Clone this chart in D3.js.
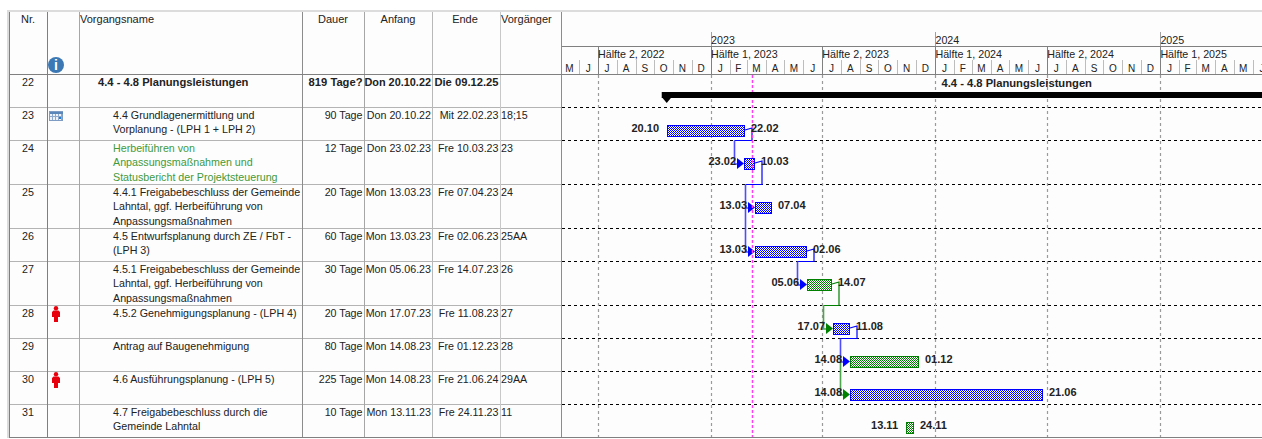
<!DOCTYPE html>
<html lang="de">
<head>
<meta charset="utf-8">
<title>Terminplan 4.4 - 4.8 Planungsleistungen</title>
<script src="https://cdn.jsdelivr.net/npm/d3@7/dist/d3.min.js"></script>
<style>
  html, body { margin: 0; padding: 0; background: #fff; overflow: hidden; }
  svg { display: block; font-family: "Liberation Sans", Arial, sans-serif; }
  text { fill: #222; }
</style>
</head>
<body>
<svg id="plan" width="1262" height="439"></svg>
<script>
// Vorgänge
const taskIds = [22, 23, 24, 25, 26, 27, 28, 29, 30, 31];
const taskNames = [
  ["4.4 - 4.8 Planungsleistungen"],
  ["4.4 Grundlagenermittlung und", "Vorplanung - (LPH 1 + LPH 2)"],
  ["Herbeiführen von", "Anpassungsmaßnahmen und", "Statusbericht der Projektsteuerung"],
  ["4.4.1 Freigabebeschluss der Gemeinde", "Lahntal, ggf. Herbeiführung von", "Anpassungsmaßnahmen"],
  ["4.5 Entwurfsplanung durch ZE / FbT -", "(LPH 3)"],
  ["4.5.1 Freigabebeschluss der Gemeinde", "Lahntal, ggf. Herbeiführung von", "Anpassungsmaßnahmen"],
  ["4.5.2 Genehmigungsplanung - (LPH 4)"],
  ["Antrag auf Baugenehmigung"],
  ["4.6 Ausführungsplanung - (LPH 5)"],
  ["4.7 Freigabebeschluss durch die", "Gemeinde Lahntal"]
];
const taskDurations = ["819 Tage?", "90 Tage", "12 Tage", "20 Tage", "60 Tage", "30 Tage", "20 Tage", "80 Tage", "225 Tage", "10 Tage"];
const taskStarts = ["Don 20.10.22", "Don 20.10.22", "Don 23.02.23", "Mon 13.03.23", "Mon 13.03.23", "Mon 05.06.23", "Mon 17.07.23", "Mon 14.08.23", "Mon 14.08.23", "Mon 13.11.23"];
const taskEnds = ["Die 09.12.25", "Mit 22.02.23", "Fre 10.03.23", "Fre 07.04.23", "Fre 02.06.23", "Fre 14.07.23", "Fre 11.08.23", "Fre 01.12.23", "Fre 21.06.24", "Fre 24.11.23"];
const taskPreds = ["", "18;15", "23", "24", "25AA", "26", "27", "28", "29AA", "11"];
const taskColors = ["summary", "blue", "blue", "blue", "blue", "green", "blue", "green", "blue", "green"];
const taskIcons = ["", "calendar", "", "", "", "", "person", "", "person", ""];
const rowEdges = [74, 107, 140, 184, 228, 261, 305, 338, 371, 404, 437];

// Anordnungsbeziehungen: Vorgänger, Nachfolger, Farbe
const linkFrom = [23, 24, 26, 27, 28];
const linkTo = [24, 25, 27, 28, 29];
const linkColors = ["blue", "blue", "blue", "green", "blue"];
// Beziehungen vom gleichen Anfang aus (AA)
const startLinkFrom = [25, 29];
const startLinkTo = [26, 30];
const startLinkColors = ["blue", "green"];

// Zeitskala
const yearTicks = ["2023", "2024", "2025"];
const halfTickDates = ["01.07.22", "01.01.23", "01.07.23", "01.01.24", "01.07.24", "01.01.25"];
const halfTickLabels = ["Hälfte 2, 2022", "Hälfte 1, 2023", "Hälfte 2, 2023", "Hälfte 1, 2024", "Hälfte 2, 2024", "Hälfte 1, 2025"];
const monthLetters = ["J", "F", "M", "A", "M", "J", "J", "A", "S", "O", "N", "D"];
const statusDate = "10.03.23";

const parse = d3.utcParse("%d.%m.%y");
const label = d3.utcFormat("%d.%m");
const dateOf = s => parse(s.split(" ").pop());

const W = 1262, chartLeft = 562;
const x = d3.scaleUtc()
  .domain([parse("01.01.23"), parse("01.01.25")])
  .range([710.6, 1159.9]);
const snap = v => Math.round(v) + 0.5;

const svg = d3.select("#plan");
const colorHex = { blue: "#0000ff", green: "#008000" };

// Schraffur der Balken
const defs = svg.append("defs");
Object.entries(colorHex).forEach(([name, hex]) => {
  const p = defs.append("pattern").attr("id", "hatch-" + name)
    .attr("width", 2).attr("height", 2).attr("patternUnits", "userSpaceOnUse");
  p.append("rect").attr("width", 2).attr("height", 2).attr("fill", "#fff");
  p.append("rect").attr("width", 1).attr("height", 1).attr("fill", hex);
  p.append("rect").attr("x", 1).attr("y", 1).attr("width", 1).attr("height", 1).attr("fill", hex);
});
defs.append("clipPath").attr("id", "chart-clip")
  .append("rect").attr("x", chartLeft).attr("y", 0).attr("width", W - chartLeft).attr("height", 439);

// Tabellenfläche und Rahmen
svg.append("rect").attr("x", 8).attr("y", 11).attr("width", W - 8).attr("height", 426).attr("fill", "#fdfdfd");
svg.append("rect").attr("x", 7).attr("y", 10).attr("width", W - 7).attr("height", 2).attr("fill", "#dcdcdc");
svg.append("rect").attr("x", 7).attr("y", 10).attr("width", 2).attr("height", 428).attr("fill", "#dcdcdc");

const tableLines = svg.append("g").attr("shape-rendering", "crispEdges");
rowEdges.slice(1, -1).forEach(y => {
  tableLines.append("line").attr("x1", 9).attr("x2", chartLeft).attr("y1", y + 0.5).attr("y2", y + 0.5)
    .attr("stroke", "#b4b4b4");
});
[[9, "#7f7f7f"], [47, "#7f7f7f"], [79, "#a6a6a6"], [302, "#8c8c8c"], [364, "#a6a6a6"], [432, "#b8b8b8"], [500, "#c8c8c8"], [561, "#8c8c8c"]]
  .forEach(([cx, c]) => {
    tableLines.append("line").attr("x1", cx + 0.5).attr("x2", cx + 0.5).attr("y1", 12).attr("y2", 437)
      .attr("stroke", c);
  });
[74, 437].forEach(y => {
  tableLines.append("line").attr("x1", 9).attr("x2", W).attr("y1", y + 0.5).attr("y2", y + 0.5).attr("stroke", "#808080");
});
tableLines.append("line").attr("x1", chartLeft).attr("x2", W).attr("y1", 46.5).attr("y2", 46.5).attr("stroke", "#808080");

// Spaltenköpfe
const headers = [["Nr.", 28, "middle"], ["Vorgangsname", 80, "start"], ["Dauer", 333, "middle"], ["Anfang", 398, "middle"], ["Ende", 465, "middle"], ["Vorgänger", 501, "start"]];
const cellFont = 10.7, boldFont = 11.2;
svg.append("g").selectAll("text").data(headers).join("text")
  .attr("x", d => d[1]).attr("y", 23).attr("text-anchor", d => d[2])
  .attr("font-size", 11).text(d => d[0]);

// Info-Symbol im Spaltenkopf
const info = svg.append("g").attr("transform", "translate(56,65)");
info.append("circle").attr("r", 8).attr("fill", "#3b78b4");
info.append("text").attr("text-anchor", "middle").attr("y", 5).attr("font-size", 14).attr("font-weight", "bold")
  .style("fill", "#fff").text("i");

// Zeitskala: Monate, Halbjahre, Jahre
const timescale = svg.append("g").attr("clip-path", "url(#chart-clip)");
const months = d3.utcMonth.range(parse("01.05.22"), parse("01.07.25"));
const monthG = timescale.append("g");
monthG.selectAll("line").data(months).join("line")
  .attr("x1", d => snap(x(d))).attr("x2", d => snap(x(d))).attr("y1", 60).attr("y2", 74)
  .attr("stroke", "#bdbdbd").attr("shape-rendering", "crispEdges");
monthG.selectAll("text").data(months).join("text")
  .attr("x", d => (x(d) + x(d3.utcMonth.offset(d, 1))) / 2).attr("y", 72)
  .attr("text-anchor", "middle").attr("font-size", 10)
  .text(d => monthLetters[d.getUTCMonth()]);
const halfDates = halfTickDates.map(parse);
timescale.append("g").selectAll("line").data(halfDates).join("line")
  .attr("x1", d => snap(x(d))).attr("x2", d => snap(x(d))).attr("y1", 46).attr("y2", 74)
  .attr("stroke", "#808080").attr("shape-rendering", "crispEdges");
timescale.append("g").selectAll("text").data(halfDates).join("text")
  .attr("x", d => x(d) + 0.5).attr("y", 58).attr("font-size", cellFont)
  .text((d, i) => halfTickLabels[i]);
const yearG = timescale.append("g");
const yearDates = yearTicks.map(y => parse("01.01." + y.slice(2)));
yearG.selectAll("line").data(yearDates).join("line")
  .attr("x1", d => snap(x(d))).attr("x2", d => snap(x(d))).attr("y1", 32).attr("y2", 46)
  .attr("stroke", "#a0a0a0").attr("shape-rendering", "crispEdges");
yearG.selectAll("text").data(yearDates).join("text")
  .attr("x", d => x(d) + 0.5).attr("y", 44).attr("font-size", cellFont)
  .text((d, i) => yearTicks[i]);

// Tabellenzeilen
const rows = taskIds.map((id, i) => ({
  id, i, top: rowEdges[i], names: taskNames[i], dur: taskDurations[i],
  startText: taskStarts[i], endText: taskEnds[i], pred: taskPreds[i],
  color: taskColors[i], icon: taskIcons[i],
  start: dateOf(taskStarts[i]), end: d3.utcDay.offset(dateOf(taskEnds[i]), 1),
  endLabel: dateOf(taskEnds[i])
}));
const rowById = new Map(rows.map(r => [r.id, r]));

const rowG = svg.append("g").selectAll("g").data(rows).join("g")
  .attr("font-size", d => d.color === "summary" ? boldFont : cellFont)
  .attr("font-weight", d => d.color === "summary" ? "bold" : "normal")
  .attr("transform", d => `translate(0,${d.top})`);
rowG.append("text").attr("x", 28).attr("y", 12).attr("text-anchor", "middle").attr("font-weight", "normal").attr("font-size", cellFont).text(d => d.id);
rowG.each(function (d) {
  const g = d3.select(this);
  d.names.forEach((line, k) => {
    g.append("text")
      .attr("x", d.color === "summary" ? 98 : 113)
      .attr("y", 12 + k * 14.3)
      .style("fill", d.id === 24 ? "#3f9a3c" : "#222")
      .text(line);
  });
  if (d.icon === "calendar") {
    const c = g.append("g").attr("transform", "translate(49,4)").attr("shape-rendering", "crispEdges");
    c.append("rect").attr("x", 0.5).attr("y", 0.5).attr("width", 13).attr("height", 9).attr("fill", "#eef3fa").attr("stroke", "#7f9cc4");
    c.append("rect").attr("x", 0.5).attr("y", 0.5).attr("width", 13).attr("height", 2).attr("fill", "#5b86ba");
    [3, 6, 9, 12].forEach(v => c.append("rect").attr("x", v).attr("y", 3).attr("width", 1).attr("height", 6).attr("fill", "#8fa9cc"));
    c.append("rect").attr("x", 1).attr("y", 5).attr("width", 12).attr("height", 1).attr("fill", "#8fa9cc");
    c.append("rect").attr("x", 10).attr("y", 6).attr("width", 2).attr("height", 2).attr("fill", "#1c7fd0");
  }
  if (d.icon === "person") {
    const p = g.append("g").attr("transform", "translate(56,1)").attr("fill", "#e8000c");
    p.append("circle").attr("cy", 2.2).attr("r", 2.2);
    p.append("path").attr("d", "M-2.5,4.5 H2.5 L4,6 V11 H2 V16 H-2 V11 H-4 V6 Z");
  }
});
rowG.append("text").attr("x", 362.5).attr("y", 12).attr("text-anchor", "end").text(d => d.dur);
rowG.append("text").attr("x", 431).attr("y", 12).attr("text-anchor", "end")
  .attr("font-size", d => d.color === "summary" ? 10.9 : cellFont).text(d => d.startText);
rowG.append("text").attr("x", 498.5).attr("y", 12).attr("text-anchor", "end").text(d => d.endText);
rowG.append("text").attr("x", 501).attr("y", 12).text(d => d.pred);

// Balkendiagramm
const chart = svg.append("g").attr("clip-path", "url(#chart-clip)");

// Gitternetz: Zeilen und Halbjahre
chart.append("g").selectAll("line").data(rowEdges.slice(1, -1)).join("line")
  .attr("x1", chartLeft).attr("x2", W).attr("y1", d => d + 0.5).attr("y2", d => d + 0.5)
  .attr("stroke", "#000").attr("stroke-dasharray", "3,3").attr("shape-rendering", "crispEdges");
chart.append("g").selectAll("line").data(halfDates).join("line")
  .attr("x1", d => snap(x(d))).attr("x2", d => snap(x(d))).attr("y1", 75).attr("y2", 437)
  .attr("stroke", "#9a9a9a").attr("stroke-width", 1.2).attr("stroke-dasharray", "3,3");

const barH = 11, barC = 24;
const midY = r => r.top + barC;
const startX = r => Math.round(x(r.start)) + 1;
const endX = r => Math.round(x(r.end)) + 2;

// Sammelvorgang
const summary = rows[0];
const sumTop = summary.top + 18;
const sumEnd = x(summary.end);
const sumStart = x(summary.start) + 1;

// Verbindungen
const linkG = chart.append("g").attr("fill", "none");
const arrow = (toRow, color) => {
  const tip = startX(toRow), cy = midY(toRow) - 0.5;
  chart.append("path")
    .attr("d", `M${tip},${cy} L${tip - 7},${cy - 5.5} V${cy + 5.5} Z`)
    .attr("fill", color);
};
linkFrom.forEach((fromId, k) => {
  const a = rowById.get(fromId), b = rowById.get(linkTo[k]);
  const c = colorHex[linkColors[k]];
  const right = endX(a) + 7, bottom = rowEdges[a.i + 1] + 0.5;
  const left = startX(b) - 9.5;
  const yA = midY(a) - 1;
  linkG.append("path")
    .attr("d", `M${endX(a)},${yA} L${right},${yA - 2} V${bottom} H${left}`)
    .attr("stroke", c).attr("stroke-width", 1.2);
  linkG.append("path")
    .attr("d", `M${left},${bottom} V${midY(b)} H${startX(b) - 5}`)
    .attr("stroke", d3.interpolateRgb(c, "#fff")(0.3)).attr("stroke-width", 1.6);
  arrow(b, c);
});
startLinkFrom.forEach((fromId, k) => {
  const a = rowById.get(fromId), b = rowById.get(startLinkTo[k]);
  const c = colorHex[startLinkColors[k]];
  const left = startX(a) - 9.5;
  linkG.append("path")
    .attr("d", `M${left},${midY(a)} V${midY(b)} H${startX(b) - 5}`)
    .attr("stroke", d3.interpolateRgb(c, "#fff")(0.3)).attr("stroke-width", 1.6);
  arrow(b, c);
});

// Vorgangsbalken
const barRows = rows.slice(1);
chart.append("g").selectAll("rect").data(barRows).join("rect")
  .attr("x", d => startX(d) + 0.5)
  .attr("y", d => d.top + barC - 5.5)
  .attr("width", d => endX(d) - startX(d) - 1)
  .attr("height", barH)
  .attr("fill", d => `url(#hatch-${d.color})`)
  .attr("stroke", d => colorHex[d.color])
  .attr("shape-rendering", "crispEdges");

// Statuslinie
chart.append("line")
  .attr("x1", snap(x(parse(statusDate)))).attr("x2", snap(x(parse(statusDate))))
  .attr("y1", 75).attr("y2", 437)
  .attr("stroke", "#ff3df5").attr("stroke-width", 1.5).attr("stroke-dasharray", "3,2");

// Sammelbalken mit Spitze am Anfang
chart.append("rect")
  .attr("x", sumStart - 5).attr("y", sumTop).attr("width", sumEnd - sumStart + 10).attr("height", 6)
  .attr("fill", "#000");
chart.append("path")
  .attr("d", `M${sumStart - 5},${sumTop + 5} H${sumStart + 5} L${sumStart},${sumTop + 11} Z`)
  .attr("fill", "#000");
chart.append("text")
  .attr("x", (sumStart + sumEnd) / 2 - 2).attr("y", summary.top + 13)
  .attr("text-anchor", "middle").attr("font-size", boldFont).attr("font-weight", "bold")
  .text(summary.names[0]);

// Datumsbeschriftung links und rechts der Balken
const labelG = chart.append("g").attr("font-size", 11).attr("font-weight", "bold");
labelG.selectAll("text.from").data(barRows).join("text").attr("class", "from")
  .attr("x", d => startX(d) - 8).attr("y", d => d.top + 25).attr("text-anchor", "end")
  .text(d => label(d.start));
labelG.selectAll("text.to").data(barRows).join("text").attr("class", "to")
  .attr("x", d => endX(d) + 6).attr("y", d => d.top + 25)
  .text(d => label(d.endLabel));
</script>
</body>
</html>
